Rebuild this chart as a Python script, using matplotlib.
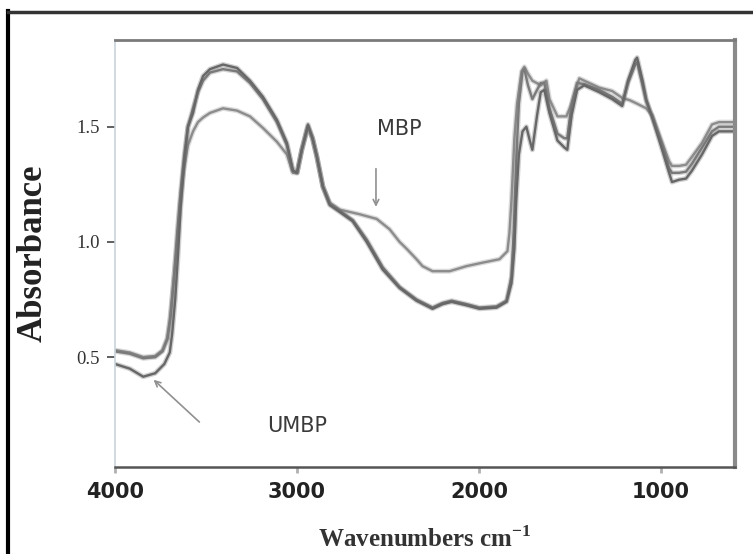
import matplotlib
matplotlib.use('Agg')
import matplotlib.pyplot as plt
from matplotlib.lines import Line2D

# FTIR spectra: wavenumber (cm-1) and absorbance
mbp_x = [4000, 3920, 3846, 3780, 3740, 3715, 3700, 3685, 3665, 3645, 3625, 3600,
         3572, 3545, 3517, 3479, 3407, 3330, 3259, 3188, 3111, 3056, 3023, 3000,
         2974, 2940, 2915, 2891, 2858, 2820, 2765, 2655, 2562, 2491, 2436, 2397,
         2343, 2310, 2255, 2161, 2068, 1980, 1887, 1843, 1832, 1821, 1805, 1790,
         1765, 1750, 1730, 1706, 1660, 1629, 1612, 1568, 1519, 1490, 1448, 1393,
         1338, 1267, 1212, 1170, 1130, 1080, 1047, 992, 954, 938, 899, 861, 828,
         773, 718, 680, 592]
mbp_y = [0.53, 0.52, 0.50, 0.505, 0.53, 0.58, 0.66, 0.78, 0.95, 1.15, 1.30, 1.42,
         1.48, 1.52, 1.54, 1.56, 1.58, 1.57, 1.545, 1.495, 1.435, 1.38, 1.30, 1.30,
         1.40, 1.50, 1.45, 1.37, 1.24, 1.17, 1.14, 1.12, 1.10, 1.055, 1.0, 0.97,
         0.925, 0.895, 0.873, 0.873, 0.895, 0.91, 0.925, 0.96, 1.04, 1.18, 1.45, 1.60,
         1.74, 1.76, 1.73, 1.70, 1.68, 1.70, 1.62, 1.545, 1.545, 1.60, 1.71, 1.69,
         1.67, 1.655, 1.625, 1.615, 1.60, 1.58, 1.55, 1.43, 1.35, 1.33, 1.33, 1.335, 1.37,
         1.43, 1.51, 1.52, 1.52]

umbp_x = [4000, 3920, 3846, 3780, 3730, 3700, 3687, 3670, 3654, 3640, 3620, 3600,
          3572, 3545, 3517, 3479, 3407, 3330, 3259, 3188, 3111, 3056, 3023, 3000,
          2974, 2940, 2915, 2891, 2858, 2820, 2765, 2694, 2617, 2529, 2436, 2343,
          2255, 2200, 2150, 2068, 1997, 1903, 1848, 1821, 1805, 1795, 1780, 1760,
          1739, 1720, 1706, 1680, 1660, 1640, 1612, 1568, 1530, 1514, 1490, 1460,
          1421, 1338, 1267, 1212, 1180, 1140, 1130, 1100, 1080, 1047, 992, 954, 938,
          899, 861, 828, 773, 718, 680, 592]
umbp_y = [0.47, 0.45, 0.415, 0.43, 0.47, 0.52, 0.60, 0.75, 0.95, 1.15, 1.35, 1.50,
          1.56, 1.66, 1.72, 1.75, 1.77, 1.755, 1.70, 1.63, 1.53, 1.43, 1.31, 1.30,
          1.40, 1.51, 1.45, 1.37, 1.24, 1.16, 1.13, 1.09, 1.0, 0.88, 0.80, 0.745,
          0.71, 0.73, 0.74, 0.725, 0.71, 0.715, 0.74, 0.82, 0.97, 1.18, 1.38, 1.48,
          1.50, 1.44, 1.40, 1.55, 1.65, 1.66, 1.56, 1.44, 1.41, 1.40, 1.55, 1.66,
          1.68, 1.65, 1.62, 1.59, 1.70, 1.79, 1.80, 1.70, 1.62, 1.54, 1.40, 1.30, 1.26,
          1.27, 1.275, 1.31, 1.38, 1.46, 1.48, 1.48]

mid_x = [4000, 3920, 3846, 3780, 3740, 3712, 3695, 3677, 3658, 3640, 3620, 3600,
         3572, 3545, 3517, 3479, 3407, 3330, 3259, 3188, 3111, 3056, 3023, 3000,
         2974, 2940, 2915, 2891, 2858, 2820, 2765, 2694, 2617, 2529, 2436, 2343,
         2255, 2200, 2150, 2068, 1997, 1903, 1848, 1821, 1808, 1795, 1780, 1760,
         1750, 1730, 1706, 1680, 1660, 1640, 1612, 1568, 1530, 1514, 1490, 1460,
         1421, 1338, 1267, 1212, 1180, 1140, 1130, 1100, 1080, 1047, 992, 954, 938,
         899, 861, 828, 773, 718, 680, 592]
mid_y = [0.525, 0.515, 0.495, 0.50, 0.525, 0.58, 0.68, 0.85, 1.05, 1.22, 1.38, 1.50,
         1.58, 1.65, 1.70, 1.735, 1.75, 1.74, 1.69, 1.62, 1.52, 1.42, 1.31, 1.30,
         1.40, 1.50, 1.45, 1.37, 1.24, 1.165, 1.135, 1.095, 1.01, 0.89, 0.805, 0.75,
         0.715, 0.735, 0.745, 0.73, 0.715, 0.72, 0.745, 0.85, 1.05, 1.35, 1.60, 1.74,
         1.75, 1.68, 1.62, 1.66, 1.69, 1.69, 1.58, 1.47, 1.45, 1.45, 1.60, 1.69,
         1.685, 1.66, 1.63, 1.60, 1.69, 1.77, 1.78, 1.68, 1.61, 1.545, 1.42, 1.32, 1.30,
         1.30, 1.305, 1.34, 1.41, 1.48, 1.50, 1.50]

fig = plt.figure(figsize=(7.53, 5.54), dpi=100)
ax = fig.add_axes([0.153, 0.157, 0.823, 0.771])

for xs, ys, c in [(mbp_x, mbp_y, '#8c8c8c'), (mid_x, mid_y, '#7a7a7a'), (umbp_x, umbp_y, '#676767')]:
    ax.plot(xs, ys, color=c, lw=3.6, alpha=0.3, solid_joinstyle='round', solid_capstyle='round')
    ax.plot(xs, ys, color=c, lw=1.7, solid_joinstyle='round')

ax.set_xlim(4000, 592)
ax.set_ylim(0.023, 1.877)

ax.set_xticks([4000, 3000, 2000, 1000])
ax.set_xticklabels(['4000', '3000', '2000', '1000'], fontsize=15, fontweight='bold',
                   family='DejaVu Sans', color='#222222')
ax.set_yticks([0.5, 1.0, 1.5])
ax.set_yticklabels(['0.5', '1.0', '1.5'], fontsize=13.5, family='Liberation Serif',
                   color='#333333')
ax.tick_params(axis='x', length=4, width=2, color='#b0b0b0', pad=7)
ax.tick_params(axis='y', length=6, width=1.2, color='#444444', pad=5)

ax.spines['top'].set_color('#7a7a7a')
ax.spines['top'].set_linewidth(2)
ax.spines['bottom'].set_color('#555555')
ax.spines['bottom'].set_linewidth(1.8)
ax.spines['left'].set_color('#c8d4dc')
ax.spines['left'].set_linewidth(1.2)
ax.spines['right'].set_color('#8a8a8a')
ax.spines['right'].set_linewidth(3)

ax.set_ylabel('Absorbance', fontsize=25, fontweight='bold', family='Liberation Serif',
              color='#222222', labelpad=19)
ax.set_xlabel('Wavenumbers cm$^{\\mathregular{-1}}$', fontsize=18, fontweight='bold',
              family='Liberation Serif', color='#333333', labelpad=17)

# sample annotations
ax.text(2440, 1.49, 'MBP', fontsize=15, color='#3a3a3a', ha='center', va='center',
        family='DejaVu Sans')
ax.annotate('', xy=(2566, 1.14), xytext=(2566, 1.33),
            arrowprops=dict(arrowstyle='->', color='#909090', lw=1.2))
ax.text(3000, 0.2, 'UMBP', fontsize=15, color='#3a3a3a', ha='center', va='center',
        family='DejaVu Sans')
ax.annotate('', xy=(3800, 0.41), xytext=(3526, 0.21),
            arrowprops=dict(arrowstyle='->', color='#909090', lw=1.2))

# outer frame
fig.add_artist(Line2D([0.010, 0.010], [0.0, 0.98], transform=fig.transFigure,
                      color='black', lw=3))
fig.add_artist(Line2D([0.010, 1.0], [0.978, 0.978], transform=fig.transFigure,
                      color='#333333', lw=2.5))

fig.savefig('out.png', dpi=100)
